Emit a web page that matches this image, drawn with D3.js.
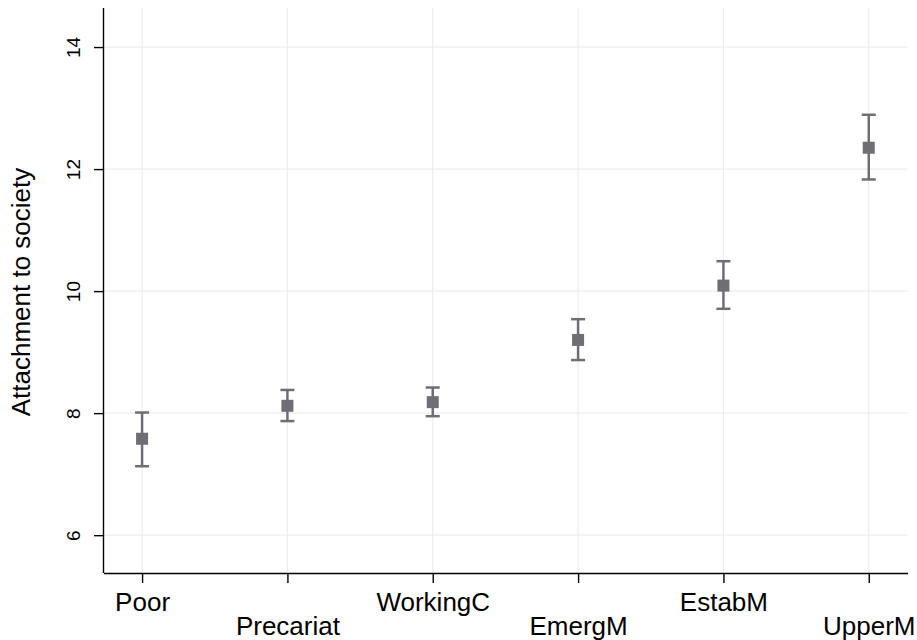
<!DOCTYPE html>
<html><head><meta charset="utf-8">
<script src="https://cdn.jsdelivr.net/npm/d3@7"></script>
<style>body{margin:0;background:#fff}svg{display:block}text{font-family:"Liberation Sans",Arial,sans-serif}</style>
</head><body>
<svg id="c" width="917" height="640"></svg>
<script>
const categories = ["Poor","Precariat","WorkingC","EmergM","EstabM","UpperM"];
const means = [7.58, 8.12, 8.18, 9.20, 10.09, 12.35];
const lower = [7.13, 7.87, 7.95, 8.87, 9.71, 11.83];
const upper = [8.01, 8.38, 8.42, 9.54, 10.49, 12.89];
const yTicks = [6, 8, 10, 12, 14];

const svg = d3.select("#c");
const L = 104, R = 908, T = 8, B = 573;
const x = d3.scaleLinear().domain([-0.262, 5.27]).range([L, R]);
const y = d3.scaleLinear().domain([5.38, 14.64]).range([B, T]);
const col = "#6e6e74";

const g = svg.append("g");
g.selectAll(".hg").data(yTicks).enter().append("line")
  .attr("x1", L).attr("x2", R).attr("y1", d => y(d)).attr("y2", d => y(d))
  .attr("stroke", "#eeeeee").attr("stroke-width", 1.2);
g.selectAll(".vg").data(categories).enter().append("line")
  .attr("x1", (d,i) => x(i)).attr("x2", (d,i) => x(i)).attr("y1", T).attr("y2", B)
  .attr("stroke", "#eeeeee").attr("stroke-width", 1.2);

const yAxis = d3.axisLeft(y).tickValues(yTicks).tickSize(10).tickFormat(d3.format("d"));
const ya = svg.append("g").attr("transform", `translate(${L},0)`).call(yAxis);
ya.select(".domain").attr("d", `M-0.5,${T}V${B}`).attr("stroke", "#000").attr("stroke-width", 1.4);
ya.selectAll(".tick line").attr("stroke", "#000").attr("stroke-width", 1.4);
ya.selectAll(".tick text").attr("font-size", 19).attr("fill", "#000")
  .attr("transform", "rotate(-90)").attr("text-anchor", "middle")
  .attr("x", 0).attr("y", -24).attr("dy", 0);

const xAxis = d3.axisBottom(x).tickValues(d3.range(categories.length)).tickSize(10).tickFormat(i => categories[i]);
const xa = svg.append("g").attr("transform", `translate(0,${B})`).call(xAxis);
xa.select(".domain").attr("d", `M${L},0.5H${R}`).attr("stroke", "#000").attr("stroke-width", 1.4);
xa.selectAll(".tick line").attr("stroke", "#000").attr("stroke-width", 1.4);
xa.selectAll(".tick text").attr("font-size", 26).attr("fill", "#000")
  .attr("dy", 0).attr("y", (d,i) => i % 2 === 0 ? 38 : 62);

svg.append("text").attr("transform", `translate(30,292) rotate(-90)`)
  .attr("text-anchor", "middle").attr("font-size", 26).attr("fill", "#000")
  .text("Attachment to society");

const eb = svg.append("g");
categories.forEach((c, i) => {
  const cx = x(i);
  eb.append("line").attr("x1", cx).attr("x2", cx).attr("y1", y(lower[i])).attr("y2", y(upper[i]))
    .attr("stroke", col).attr("stroke-width", 2.5);
  [lower[i], upper[i]].forEach(v => {
    eb.append("line").attr("x1", cx - 7).attr("x2", cx + 7).attr("y1", y(v)).attr("y2", y(v))
      .attr("stroke", col).attr("stroke-width", 2.5);
  });
  eb.append("rect").attr("x", cx - 6).attr("y", y(means[i]) - 6).attr("width", 12).attr("height", 12)
    .attr("fill", col);
});
</script>
</body></html>
